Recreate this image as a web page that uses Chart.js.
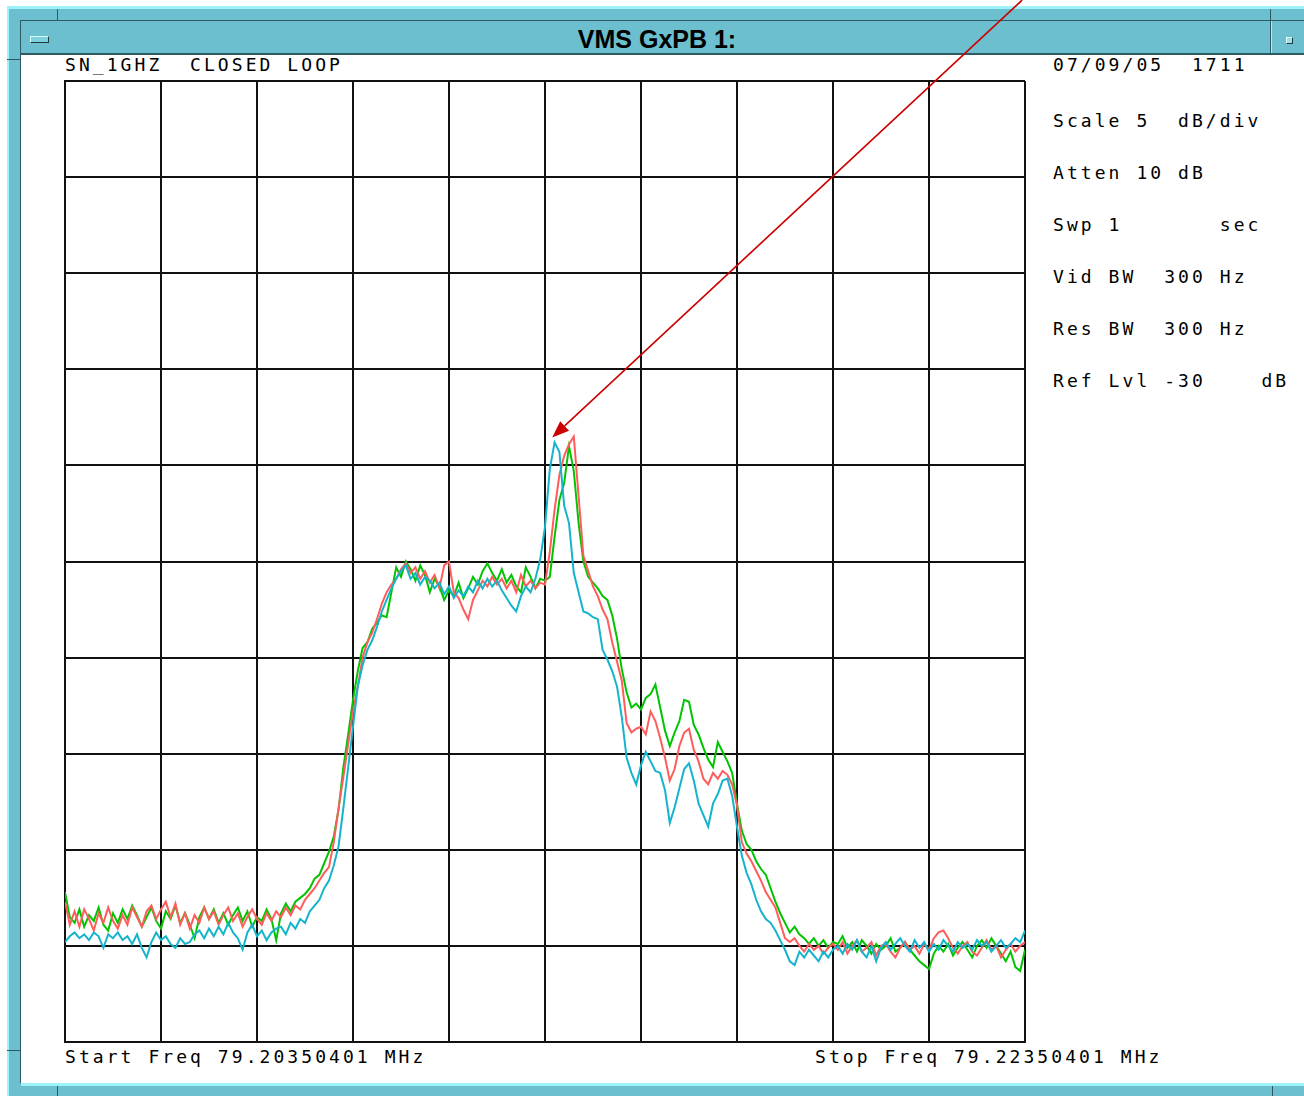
<!DOCTYPE html>
<html>
<head>
<meta charset="utf-8">
<title>VMS GxPB 1:</title>
<script src="https://cdn.jsdelivr.net/npm/chart.js@4.4.1/dist/chart.umd.min.js"></script>
<style>
  html, body { margin: 0; padding: 0; background: #fff; }
  #page { position: relative; width: 1304px; height: 1096px; overflow: hidden; background: #fff; }
  .f { position: absolute; }
  .teal { background: #6cbfcf; }
  .dk { background: #2e5a64; }
  .hl { background: #9ef3fa; }
  .mono {
    position: absolute; font-family: 'DejaVu Sans Mono', monospace; font-size: 18px;
    line-height: 18px; letter-spacing: 3.06px; white-space: pre; color: #000;
  }
  #title {
    position: absolute; left: 57px; width: 1200px; top: 27px; text-align: center;
    font: bold 25px 'Liberation Sans', Arial, sans-serif; line-height: 25px; color: #000;
  }
  #btnMin {
    position: absolute; left: 30px; top: 36px; width: 17px; height: 5px; background: #7fcfdd;
    border-top: 1px solid #d6ffff; border-left: 1px solid #d6ffff;
    border-bottom: 1px solid #1d3c44; border-right: 1px solid #1d3c44;
  }
  #btnMax {
    position: absolute; left: 1286px; top: 37px; width: 5px; height: 5px; background: #9fdde8;
    border-top: 1px solid #e0ffff; border-left: 1px solid #e0ffff;
    border-bottom: 1px solid #1d3c44; border-right: 1px solid #1d3c44;
  }
  canvas { position: absolute; left: 0; top: 0; }
</style>
</head>
<body>
<div id="page">
  <!-- window frame -->
  <div class="f hl" style="left:7px;top:6px;width:1297px;height:3px"></div>
  <div class="f teal" style="left:7px;top:9px;width:1297px;height:46px"></div>
  <div class="f dk" style="left:21px;top:20px;width:1283px;height:1px"></div>
  <div class="f dk" style="left:21px;top:53px;width:1283px;height:2px"></div>
  <div class="f dk" style="left:57px;top:9px;width:1px;height:11px"></div>
  <div class="f dk" style="left:1270px;top:9px;width:1px;height:44px"></div>
  <div class="f hl" style="left:1271px;top:21px;width:1px;height:32px"></div>
  <div class="f hl" style="left:7px;top:6px;width:2px;height:1090px"></div>
  <div class="f teal" style="left:9px;top:9px;width:12px;height:1087px"></div>
  <div class="f dk" style="left:20px;top:20px;width:1px;height:1063px"></div>
  <div class="f dk" style="left:7px;top:59px;width:14px;height:1px"></div>
  <div class="f dk" style="left:7px;top:1050px;width:14px;height:1px"></div>
  <div class="f hl" style="left:21px;top:1083px;width:1283px;height:3px"></div>
  <div class="f teal" style="left:9px;top:1086px;width:1295px;height:10px"></div>
  <div class="f dk" style="left:57px;top:1086px;width:1px;height:10px"></div>
  <div class="f dk" style="left:1272px;top:1086px;width:1px;height:10px"></div>
  <div id="btnMin"></div>
  <div id="btnMax"></div>
  <div id="title">VMS GxPB 1:</div>

  <!-- analyzer annotations -->
  <div class="mono" id="traceName" style="left:65px;top:56px"></div>
  <div class="mono" id="stamp" style="left:1053px;top:56px"></div>
  <div id="settings"></div>
  <div class="mono" id="startLbl" style="left:65px;top:1048px"></div>
  <div class="mono" id="stopLbl" style="left:815px;top:1048px"></div>

  <canvas id="spec" width="1304" height="1096"></canvas>
</div>

<script>
// Sweep: 79.20350401 MHz to 79.22350401 MHz, 5 dB/div, ref level -30 dB
const startFreqMHz = '79.20350401';
const stopFreqMHz = '79.22350401';
const spanKHz = 20;
const refLevelDb = -30;
const scaleDbPerDiv = 5;
const divisions = 10;

// Offset from start frequency (kHz) of each sweep point
const sweepKHz = Array.from({ length: 201 }, (_, i) => Math.round(i * 10) / 100);

const redTraceDb = [
  -72.7, -73.9, -73.2, -74.0, -73.1, -73.6, -74.2, -73.3, -73.8, -73.0,
  -73.7, -74.1, -73.4, -73.9, -73.0, -73.5, -74.0, -73.2, -72.9, -73.6,
  -73.1, -72.7, -73.5, -72.8, -73.9, -73.3, -74.1, -73.4, -73.8, -73.0,
  -73.6, -73.2, -73.9, -73.4, -73.0, -73.7, -73.3, -74.0, -73.5, -73.1,
  -73.6, -73.9, -73.3, -73.7, -73.2, -73.5, -73.0, -73.4, -72.9, -73.1,
  -72.6, -72.3, -72.0, -71.6, -71.2, -70.9, -69.6, -67.8, -66.2, -64.5,
  -62.8, -61.5, -60.0, -59.2, -58.7, -58.0, -57.2, -56.6, -56.2, -55.9,
  -55.4, -55.1, -55.6, -55.3, -55.9, -55.5, -56.1, -55.7, -56.4, -55.2,
  -55.0, -56.6, -56.9, -57.5, -58.0, -57.0, -56.5, -56.0, -56.3, -55.8,
  -56.2, -55.9, -56.4, -56.0, -56.6, -55.7, -56.3, -56.0, -56.4, -56.1,
  -56.2, -54.5, -52.3, -50.5, -49.5, -48.9, -48.5, -51.6, -54.7, -55.5,
  -56.3, -56.8, -57.5, -58.0, -59.2, -60.2, -61.2, -63.4, -63.9, -63.7,
  -63.6, -64.0, -62.8, -63.3, -64.2, -65.2, -66.4, -65.8, -64.6, -63.9,
  -63.7, -64.8, -65.4, -66.3, -66.6, -66.0, -66.3, -65.9, -66.1, -66.6,
  -67.7, -69.6, -70.2, -70.6, -71.1, -71.6, -72.2, -72.6, -73.0, -73.8,
  -74.6, -74.8, -74.6, -75.0, -75.3, -74.9, -75.2, -75.0, -75.4, -75.1,
  -74.9, -75.2, -74.8, -75.4, -75.0, -74.7, -75.3, -75.1, -74.8, -75.5,
  -75.0, -74.9, -75.3, -75.6, -75.1, -74.8, -75.2, -75.0, -75.4, -74.9,
  -75.2, -74.6, -74.3, -74.2, -74.6, -75.1, -75.4, -75.0, -74.8, -75.3,
  -75.5, -75.1, -74.7, -75.2, -75.0, -75.6, -75.2, -74.9, -75.3, -75.0,
  -74.8
];

const greenTraceDb = [
  -72.2, -73.5, -73.8, -73.1, -74.0, -73.4, -73.7, -73.0, -73.9, -74.2,
  -73.3, -73.8, -73.1, -73.6, -72.9, -73.4, -74.0, -73.5, -73.0, -73.7,
  -74.1, -73.2, -73.6, -72.9, -73.8, -73.3, -73.9, -74.6, -73.5, -73.0,
  -73.6, -73.1, -73.8, -73.3, -73.9, -73.4, -73.0, -73.7, -73.2, -74.0,
  -73.5, -73.7, -73.1, -73.6, -74.7, -73.3, -72.8, -73.2, -72.7, -72.5,
  -72.3, -72.0, -71.5, -71.3, -70.7, -70.1, -69.3, -67.9, -65.7, -64.0,
  -62.2, -60.7, -59.5, -59.2, -58.5, -58.2, -57.8, -57.9, -56.6, -55.3,
  -55.8, -55.0, -55.4, -56.0, -55.2, -55.7, -56.6, -55.9, -56.3, -57.0,
  -56.5, -56.8, -56.1, -56.9, -56.4, -55.8, -56.2, -55.5, -55.1, -55.6,
  -56.0, -55.4, -56.1, -55.7, -56.3, -56.6, -55.3, -55.8, -56.4, -55.9,
  -56.0, -55.8, -53.7, -51.8, -50.9, -49.0, -50.3, -53.0, -55.0, -55.8,
  -56.1, -56.4, -56.8, -57.0, -57.8, -59.0, -60.6, -61.8, -62.6, -62.4,
  -62.7, -62.1, -61.9, -61.4, -62.6, -63.8, -64.6, -63.9, -63.3, -62.2,
  -62.3, -63.5, -64.0, -64.7, -65.3, -65.7, -64.4, -64.9, -65.4, -66.0,
  -67.6, -69.0, -69.7, -70.0, -70.6, -71.0, -71.3, -72.0, -72.7, -73.3,
  -73.8, -74.3, -74.0, -74.4, -74.6, -74.9, -74.6, -75.0, -74.7, -75.1,
  -74.8, -74.9, -74.5, -75.1, -74.8, -75.3, -74.7, -75.0, -75.4, -74.9,
  -75.2, -75.0, -74.6, -75.3, -75.1, -74.8, -75.2, -75.5, -75.8, -76.0,
  -76.2, -75.4, -75.0, -75.3, -74.9, -75.5, -75.1, -74.8, -75.2, -75.6,
  -75.0, -74.7, -75.1, -74.6, -75.0, -75.4, -75.8, -75.3, -76.1, -76.3,
  -75.2
];

const cyanTraceDb = [
  -74.8, -74.5, -74.3, -74.6, -74.4, -74.7, -74.3, -74.5, -75.1, -74.4,
  -74.6, -74.3, -74.7, -74.5, -74.9, -74.4, -75.1, -75.6, -74.8, -74.3,
  -74.7, -74.5, -74.9, -75.1, -74.6, -74.9, -74.8, -74.4, -74.2, -74.6,
  -74.1, -74.5, -74.0, -74.4, -73.8, -74.3, -74.6, -75.2, -74.3, -73.9,
  -74.5, -74.2, -74.7, -74.3, -74.1, -74.0, -74.4, -73.8, -74.1, -73.6,
  -73.8, -73.2, -72.9, -72.6, -72.0, -71.6, -70.8, -69.8, -67.8, -65.7,
  -63.6, -61.5, -60.4, -59.6, -59.1, -58.4, -57.6, -57.0, -56.4, -55.9,
  -55.5, -55.2, -55.9, -55.6, -56.2, -55.8, -56.0, -56.4, -56.1, -56.7,
  -56.3, -56.9, -56.5, -56.8, -56.3, -56.6, -56.0, -56.4, -55.9, -56.3,
  -56.0, -56.5, -56.9, -57.3, -57.6, -56.8, -56.3, -56.6, -55.9, -54.9,
  -53.2, -50.2, -48.8, -49.3, -52.1, -53.0, -55.6, -56.6, -57.6, -57.7,
  -57.9, -58.0, -59.6, -60.1, -60.7, -61.5, -63.1, -65.2, -66.0, -66.6,
  -65.6, -64.9, -65.4, -65.9, -66.0, -66.9, -68.6, -67.8, -66.8, -65.8,
  -65.5, -66.4, -67.6, -68.2, -68.8, -67.6, -67.1, -66.4, -66.3, -67.2,
  -68.8, -70.3, -71.2, -71.8, -72.6, -73.2, -73.6, -73.8, -74.2, -74.7,
  -75.2, -75.8, -76.0, -75.3, -75.6, -75.2, -75.5, -75.8, -75.3, -75.6,
  -75.2, -75.0, -75.4, -74.9, -75.2, -74.7, -75.3, -75.6, -75.0, -75.8,
  -75.1, -74.8, -75.2, -74.9, -74.6, -75.0, -75.3, -74.7, -75.1, -74.8,
  -75.3, -74.9, -75.2, -74.7, -75.0, -75.3, -74.8, -75.1, -74.9, -75.2,
  -74.7, -75.0, -74.8, -75.3, -75.0, -74.7, -75.1, -74.9, -74.6, -74.8,
  -74.2
];

// Text shown around the graticule
const traceName = 'SN_1GHZ  CLOSED LOOP';
const dateStamp = '07/09/05  1711';
const settingsLines = [
  'Scale 5  dB/div',
  'Atten 10 dB',
  'Swp 1       sec',
  'Vid BW  300 Hz',
  'Res BW  300 Hz',
  'Ref Lvl -30    dB'
];

// Marker arrow pointing at the carrier peak (kHz offset, dB)
const arrowTip = { x: 10.15, y: -48.55 };
const arrowTail = { x: 19.94, y: -25.79 };

document.getElementById('traceName').textContent = traceName;
document.getElementById('stamp').textContent = dateStamp;
document.getElementById('startLbl').textContent = 'Start Freq ' + startFreqMHz + ' MHz';
document.getElementById('stopLbl').textContent = 'Stop Freq ' + stopFreqMHz + ' MHz';
const settingsBox = document.getElementById('settings');
settingsLines.forEach((line, i) => {
  const d = document.createElement('div');
  d.className = 'mono';
  d.style.left = '1053px';
  d.style.top = (112 + i * 52) + 'px';
  d.textContent = line;
  settingsBox.appendChild(d);
});

const toPoints = (arr) => arr.map((v, i) => ({ x: sweepKHz[i], y: v }));

const markerArrow = {
  id: 'markerArrow',
  afterDatasetsDraw(chart) {
    const { ctx, scales: { x, y } } = chart;
    const x0 = x.getPixelForValue(arrowTail.x), y0 = y.getPixelForValue(arrowTail.y);
    const x1 = x.getPixelForValue(arrowTip.x), y1 = y.getPixelForValue(arrowTip.y);
    const ang = Math.atan2(y1 - y0, x1 - x0);
    const len = 17, half = 6.5;
    const bx = x1 - len * Math.cos(ang), by = y1 - len * Math.sin(ang);
    ctx.save();
    ctx.strokeStyle = '#cc0000';
    ctx.fillStyle = '#cc0000';
    ctx.lineWidth = 1.6;
    ctx.beginPath();
    ctx.moveTo(x0, y0);
    ctx.lineTo(bx, by);
    ctx.stroke();
    ctx.beginPath();
    ctx.moveTo(x1, y1);
    ctx.lineTo(bx + half * Math.sin(ang), by - half * Math.cos(ang));
    ctx.lineTo(bx - half * Math.sin(ang), by + half * Math.cos(ang));
    ctx.closePath();
    ctx.fill();
    ctx.restore();
  }
};

const traceStyle = { borderWidth: 2, pointRadius: 0, tension: 0, fill: false };

new Chart(document.getElementById('spec'), {
  type: 'line',
  data: {
    datasets: [
      { label: 'Trace C', data: toPoints(cyanTraceDb), borderColor: '#14b4cc', ...traceStyle },
      { label: 'Trace A', data: toPoints(redTraceDb), borderColor: '#ff5c5c', ...traceStyle },
      { label: 'Trace B', data: toPoints(greenTraceDb), borderColor: '#00c400', ...traceStyle }
    ]
  },
  options: {
    responsive: false,
    animation: false,
    devicePixelRatio: 1,
    layout: { padding: { left: 65, top: 81, right: 279, bottom: 54 } },
    plugins: { legend: { display: false }, tooltip: { enabled: false } },
    scales: {
      x: {
        type: 'linear', min: 0, max: spanKHz,
        ticks: { display: false, stepSize: spanKHz / divisions },
        grid: { color: '#111', lineWidth: 2, drawTicks: false },
        border: { display: true, color: '#111', width: 2 }
      },
      y: {
        type: 'linear', min: refLevelDb - scaleDbPerDiv * divisions, max: refLevelDb,
        ticks: { display: false, stepSize: scaleDbPerDiv },
        grid: { color: '#111', lineWidth: 2, drawTicks: false },
        border: { display: true, color: '#111', width: 2 }
      }
    }
  },
  plugins: [markerArrow]
});
</script>
</body>
</html>
